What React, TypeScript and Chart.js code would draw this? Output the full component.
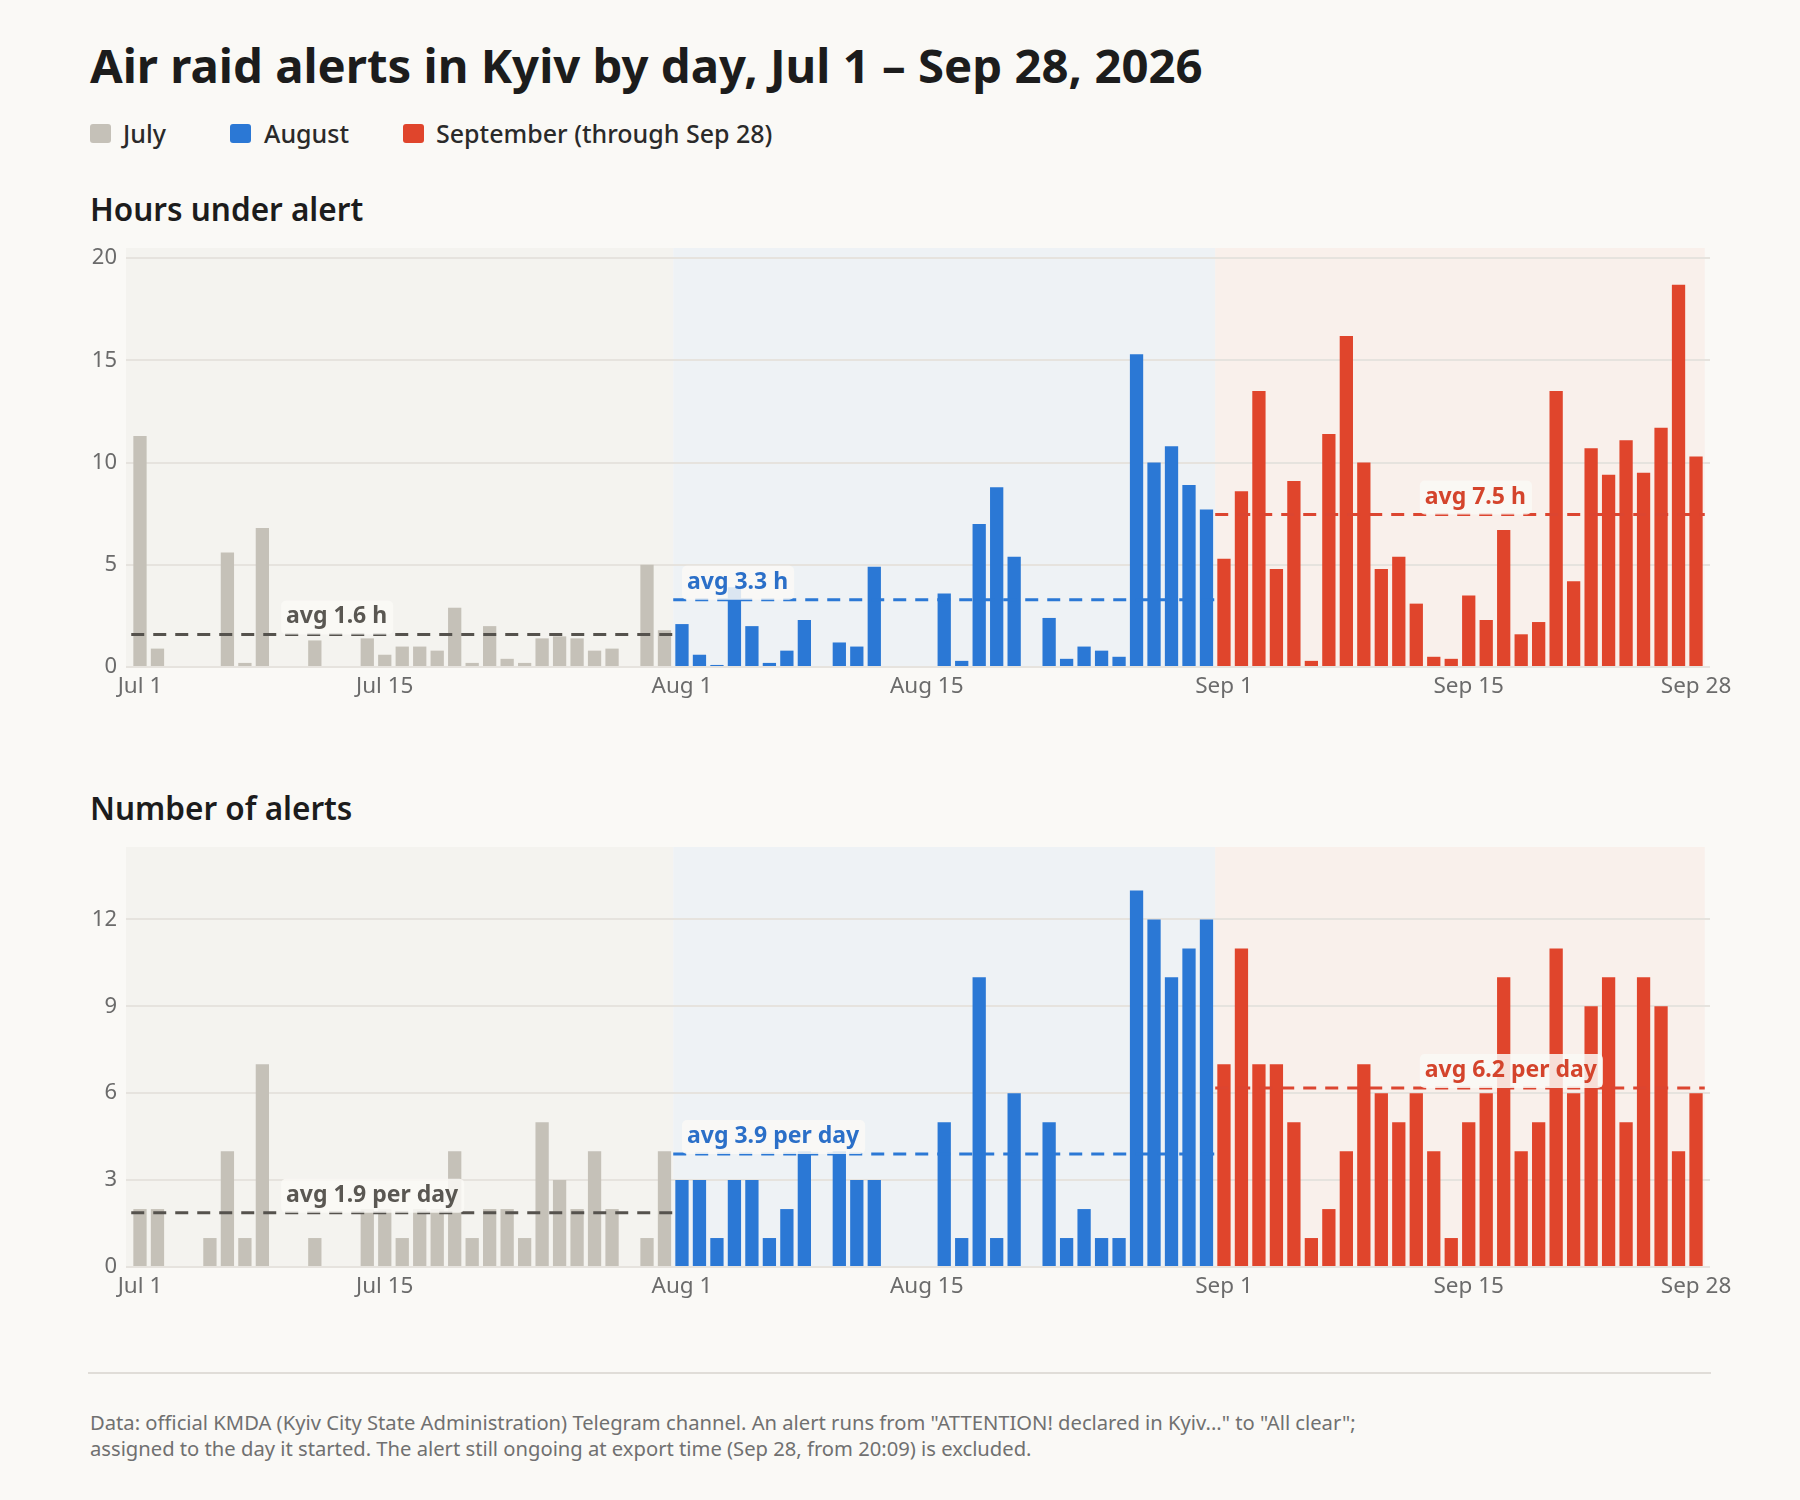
import React, { useEffect, useRef } from "react";
import { Chart, registerables } from "chart.js";

Chart.register(...registerables);

const FONT = "'Noto Sans', 'DejaVu Sans', sans-serif";

// ---- data ----
const monthLabels = ["July", "August", "September (through Sep 28)"];
const monthStart = [0, 31, 62];

const julyHours = [11.3, 0.9, 0, 0, 0, 5.6, 0.2, 6.8, 0, 0, 1.3, 0, 0, 1.4, 0.6, 1.0, 1.0, 0.8, 2.9, 0.2, 2.0, 0.4, 0.2, 1.4, 1.5, 1.4, 0.8, 0.9, 0, 5.0, 1.8];
const augHours = [2.1, 0.6, 0.1, 3.9, 2.0, 0.2, 0.8, 2.3, 0, 1.2, 1.0, 4.9, 0, 0, 0, 3.6, 0.3, 7.0, 8.8, 5.4, 0, 2.4, 0.4, 1.0, 0.8, 0.5, 15.3, 10.0, 10.8, 8.9, 7.7];
const sepHours = [5.3, 8.6, 13.5, 4.8, 9.1, 0.3, 11.4, 16.2, 10.0, 4.8, 5.4, 3.1, 0.5, 0.4, 3.5, 2.3, 6.7, 1.6, 2.2, 13.5, 4.2, 10.7, 9.4, 11.1, 9.5, 11.7, 18.7, 10.3];

const julyCounts = [2, 2, 0, 0, 1, 4, 1, 7, 0, 0, 1, 0, 0, 2, 2, 1, 2, 2, 4, 1, 2, 2, 1, 5, 3, 2, 4, 2, 0, 1, 4];
const augCounts = [3, 3, 1, 3, 3, 1, 2, 4, 0, 4, 3, 3, 0, 0, 0, 5, 1, 10, 1, 6, 0, 5, 1, 2, 1, 1, 13, 12, 10, 11, 12];
const sepCounts = [7, 11, 7, 7, 5, 1, 2, 4, 7, 6, 5, 6, 4, 1, 5, 6, 10, 4, 5, 11, 6, 9, 10, 5, 10, 9, 4, 6];

const tickDays = [0, 14, 31, 45, 62, 76, 89];
const tickLabels = ["Jul 1", "Jul 15", "Aug 1", "Aug 15", "Sep 1", "Sep 15", "Sep 28"];

const hoursAxis = { max: 20.5, step: 5 };
const countsAxis = { max: 14.5, step: 3 };

// ---- styles ----
const PAGE_BG = "#faf9f6";
const BAR_COLORS = ["#c5c1b8", "#2b78d5", "#e0452c"];
const BG_COLORS = ["#f4f3ef", "#eef2f5", "#f9f0eb"];
const AVG_LINE = ["#55524d", "#2b78d5", "#dc4530"];
const AVG_TEXT = ["#5a5752", "#2b6fc8", "#d4442c"];
const LABEL_AT = [8.07, 31, 73.2];
const GRID = "#e6e3de";
const TICK = "#6b6b6b";

function monthPlugin(series: number[][], suffix: string) {
  const avgs = series.map((s) => s.reduce((a, b) => a + b, 0) / s.length);
  return {
    id: "months",
    beforeDraw(chart: any) {
      const { ctx, chartArea, scales } = chart;
      const x = scales.x;
      ctx.save();
      for (let m = 0; m < series.length; m++) {
        const left = m === 0 ? chartArea.left : x.getPixelForValue(monthStart[m] - 0.5);
        const right = x.getPixelForValue(monthStart[m] + series[m].length - 0.5);
        ctx.fillStyle = BG_COLORS[m];
        ctx.fillRect(left, chartArea.top, right - left, chartArea.bottom - chartArea.top);
      }
      ctx.restore();
    },
    afterDatasetsDraw(chart: any) {
      const { ctx, scales } = chart;
      const x = scales.x;
      const y = scales.y;
      ctx.save();
      for (let m = 0; m < series.length; m++) {
        const x0 = x.getPixelForValue(monthStart[m] - 0.5);
        const x1 = x.getPixelForValue(monthStart[m] + series[m].length - 0.5);
        const yy = y.getPixelForValue(avgs[m]);
        ctx.strokeStyle = AVG_LINE[m];
        ctx.lineWidth = 3;
        ctx.setLineDash([13, 9]);
        ctx.beginPath();
        ctx.moveTo(x0, yy);
        ctx.lineTo(x1, yy);
        ctx.stroke();
      }
      ctx.setLineDash([]);
      for (let m = 0; m < series.length; m++) {
        const yy = y.getPixelForValue(avgs[m]);
        const text = `avg ${avgs[m].toFixed(1)}${suffix}`;
        ctx.font = `bold 23px ${FONT}`;
        const w = ctx.measureText(text).width;
        const bx = x.getPixelForValue(LABEL_AT[m]);
        ctx.fillStyle = "rgba(250,249,246,0.85)";
        ctx.beginPath();
        if (ctx.roundRect) ctx.roundRect(bx, yy - 34, w + 11, 34, 5);
        else ctx.rect(bx, yy - 34, w + 11, 34);
        ctx.fill();
        ctx.fillStyle = AVG_TEXT[m];
        ctx.textBaseline = "alphabetic";
        ctx.textAlign = "left";
        ctx.fillText(text, bx + 5, yy - 11);
      }
      ctx.restore();
    },
  };
}

function MonthChart(props: { top: number; height: number; series: number[][]; axis: { max: number; step: number }; suffix: string }) {
  const ref = useRef<HTMLCanvasElement>(null);
  useEffect(() => {
    const { series, axis, suffix } = props;
    const chart = new Chart(ref.current as HTMLCanvasElement, {
      type: "bar",
      data: {
        datasets: series.map((s, m) => ({
          label: monthLabels[m],
          data: s.map((v, i) => ({ x: monthStart[m] + i, y: v })),
          backgroundColor: BAR_COLORS[m],
          barPercentage: 0.76,
          categoryPercentage: 1,
          grouped: false,
        })),
      } as any,
      options: {
        responsive: false,
        maintainAspectRatio: false,
        animation: false,
        layout: { padding: { top: 10, right: 90, left: 0, bottom: 0 } },
        plugins: { legend: { display: false }, tooltip: { enabled: false } },
        scales: {
          x: {
            type: "linear",
            min: -0.8,
            max: 89.8,
            offset: false,
            bounds: "data",
            grid: { display: false, offset: false },
            border: { display: false },
            afterBuildTicks: (a: any) => {
              a.ticks = tickDays.map((v) => ({ value: v }));
            },
            afterFit: (a: any) => {
              a.height = 50;
              a.paddingLeft = 0;
              a.paddingRight = 0;
            },
            ticks: {
              autoSkip: false,
              maxRotation: 0,
              padding: -2,
              color: TICK,
              font: { family: FONT, size: 22.5 },
              callback: (v: any) => {
                const k = tickDays.indexOf(Number(v));
                return k >= 0 ? tickLabels[k] : "";
              },
            },
          },
          y: {
            min: 0,
            max: axis.max,
            grid: { color: GRID, lineWidth: 2, drawTicks: false },
            border: { display: false },
            afterFit: (a: any) => {
              a.width = 126;
              a.paddingTop = 0;
              a.paddingBottom = 0;
            },
            ticks: {
              stepSize: axis.step,
              includeBounds: false,
              padding: 9,
              color: TICK,
              font: { family: FONT, size: 22 },
            } as any,
          },
        },
      } as any,
      plugins: [monthPlugin(series, suffix) as any],
    });
    return () => chart.destroy();
  }, []);
  return (
    <canvas
      ref={ref}
      width={1800}
      height={props.height}
      style={{ position: "absolute", left: 0, top: props.top, width: 1800, height: props.height }}
    />
  );
}

function T(props: { x: number; b: number; size: number; weight?: number; color: string; children: any }) {
  const { x, b, size, weight = 400, color, children } = props;
  return (
    <div
      style={{
        position: "absolute",
        left: x,
        top: b - 0.888 * size,
        fontFamily: FONT,
        fontSize: size,
        lineHeight: `${size}px`,
        fontWeight: weight,
        color,
        whiteSpace: "nowrap",
      }}
    >
      {children}
    </div>
  );
}

const legendPos = [
  { sx: 90, tx: 123 },
  { sx: 230, tx: 264 },
  { sx: 403, tx: 436 },
];

export default function App() {
  return (
    <div style={{ position: "absolute", left: 0, top: 0, width: 1800, height: 1500, background: PAGE_BG, overflow: "hidden" }}>
      <T x={90} b={83} size={47.3} weight={700} color="#1c1c1c">
        Air raid alerts in Kyiv by day, Jul 1 – Sep 28, 2026
      </T>
      {monthLabels.map((l, m) => (
        <React.Fragment key={l}>
          <div
            style={{
              position: "absolute",
              left: legendPos[m].sx,
              top: 124,
              width: 21,
              height: 19,
              borderRadius: 3,
              background: BAR_COLORS[m],
            }}
          />
          <T x={legendPos[m].tx} b={143} size={25} weight={500} color="#2a2a2a">
            {l}
          </T>
        </React.Fragment>
      ))}
      <T x={90} b={221} size={31.5} weight={600} color="#1c1c1c">
        Hours under alert
      </T>
      <MonthChart top={238} height={479} series={[julyHours, augHours, sepHours]} axis={hoursAxis} suffix=" h" />
      <T x={90} b={820} size={31.5} weight={600} color="#1c1c1c">
        Number of alerts
      </T>
      <MonthChart top={837} height={480} series={[julyCounts, augCounts, sepCounts]} axis={countsAxis} suffix=" per day" />
      <div style={{ position: "absolute", left: 88, top: 1372, width: 1623, height: 2, background: "#e0ddd8" }} />
      <T x={90} b={1430} size={20.2} color="#707070">
        Data: official KMDA (Kyiv City State Administration) Telegram channel. An alert runs from "ATTENTION! declared in Kyiv..." to "All clear";
      </T>
      <T x={90} b={1456} size={20.2} color="#707070">
        assigned to the day it started. The alert still ongoing at export time (Sep 28, from 20:09) is excluded.
      </T>
    </div>
  );
}
